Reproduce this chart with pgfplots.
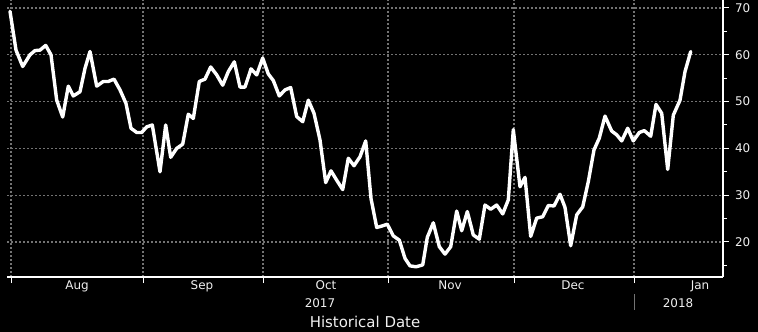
\documentclass[border=0pt]{standalone}
\usepackage{pgfplots}
\pgfplotsset{compat=1.18}
\usepackage{fontspec}
\setmainfont{DejaVu Sans}
\definecolor{gridc}{RGB}{115,115,115}
\definecolor{txt}{RGB}{240,240,240}
\begin{document}
\begin{tikzpicture}
\fill[black] (-7bp,-55bp) rectangle (751bp,277bp);
\begin{axis}[
 at={(0,0)}, anchor=south west,
 scale only axis, width=716bp, height=277bp,
 xmin=7, xmax=723, ymin=12.52, ymax=71.71,
 axis x line=bottom, axis y line=right,
 axis line style={white, line width=1.2bp, -},
 xtick={11,143,263,388,514,634}, xticklabels={},
 extra x ticks={77,202,326,450,573,700},
 extra x tick labels={Aug,Sep,Oct,Nov,Dec,Jan},
 extra x tick style={grid=none, major tick length=0pt},
 ytick={20,30,...,70}, minor ytick={15,25,...,65},
 grid=major,
 major grid style={gridc, line width=1.3bp, dash pattern=on 1.6bp off 2.4bp},
 tick style={white, line width=1bp},
 tick align=outside,
 major tick length=6bp, minor tick length=3.5bp,
 tick label style={font=\fontsize{12}{14}\selectfont, text=txt},
 yticklabel style={xshift=2.5bp},
 xticklabel style={yshift=-0.5bp},
 /pgf/number format/assume math mode=true,
 clip=false,
]
\addplot[white, line width=3.4bp, line join=round, line cap=round] coordinates {
(10,69.3) (16,61.0) (22.7,57.5) (30,60.0) (35,60.9) (40,61.0) (45.7,62.0) (51,60.0)
(56.7,50.3) (62.7,46.7) (68.3,53.3) (73.3,51.2) (80,52.1) (85,57.1) (90,60.7)
(96.7,53.3) (103.3,54.3) (108.3,54.3) (114,54.8) (120,52.5) (126,49.6) (131,44.3)
(136.7,43.4) (141.7,43.4) (146.7,44.6) (152.3,45.0) (160,35.0) (165.7,45.0)
(170.7,38.1) (176.7,40.0) (182.7,40.9) (188.3,47.3) (193.3,46.4) (199.3,54.3)
(205,54.8) (210.7,57.4) (216.7,55.7) (222.7,53.5) (228.3,56.4) (234.3,58.5)
(240,53.1) (245,53.1) (251,57.0) (256.7,55.7) (262.7,59.3) (268.3,55.9)
(273.3,54.5) (279.3,51.2) (285,52.5) (290.7,53.0) (296.7,46.8) (302.7,45.7)
(308.3,50.3) (314,47.5) (320,41.8) (325.7,32.7) (331,35.2) (336.7,33.2)
(342.7,31.2) (348.3,37.9) (354,36.3) (360,38.2) (365.7,41.6) (371,29.3)
(376.7,23.1) (381.7,23.4) (387.3,23.8) (393.3,21.3) (399.3,20.4) (405,16.5)
(410,14.9) (416,14.7) (422.7,15.1) (427.3,21.0) (433.3,24.1) (439.3,19.0)
(445,17.4) (450.7,19.0) (456.7,26.6) (461.7,22.4) (467.3,26.5) (473.3,21.5)
(479.3,20.6) (485,27.9) (490.7,27.0) (496.7,27.9) (502.7,26.0) (508.3,29.0)
(513.3,44.0) (520,31.8) (525,33.8) (530.7,21.2) (536.7,25.1) (542.7,25.4)
(548.3,27.8) (554,27.7) (560,30.2) (565,27.4) (570.7,19.2) (576.7,25.8)
(582.7,27.5) (588.3,32.9) (594,39.7) (599.3,42.2) (605,46.9) (611.7,43.7)
(616.7,42.9) (621.7,41.6) (627.7,44.3) (633.3,41.6) (639.3,43.4) (644.3,43.8)
(650.7,42.6) (656,49.4) (661.7,47.5) (667.7,35.5) (673.3,47.1) (680,50.3)
(685,56.4) (690.7,60.7)
};
\end{axis}
\node[text=txt, font=\fontsize{12}{14}\selectfont] at (313bp,-26bp) {2017};
\node[text=txt, font=\fontsize{12}{14}\selectfont] at (671bp,-26bp) {2018};
\draw[gridc, line width=1bp] (627bp,-17bp) -- (627bp,-33bp);
\node[text=txt, font=\fontsize{15}{17}\selectfont] at (358bp,-45bp) {Historical Date};
\pgfresetboundingbox
\path (-7bp,-55bp) rectangle (751bp,277bp);
\end{tikzpicture}
\end{document}
